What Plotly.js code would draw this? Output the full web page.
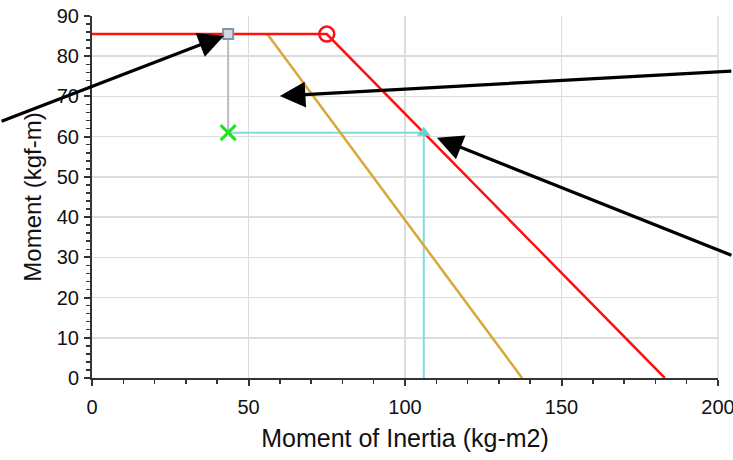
<!DOCTYPE html>
<html>
<head>
<meta charset="utf-8">
<script src="https://cdn.plot.ly/plotly-3.0.1.min.js"></script>
<style>html,body{margin:0;padding:0;background:#fff;}#chart{width:733px;height:460px;}</style>
</head>
<body>
<div id="chart"></div>
<script>
// Limit curve (red)
const redX = [0, 75, 183];
const redY = [85.5, 85.5, 0];
// Second curve (orange)
const orangeX = [56, 137.4];
const orangeY = [85.5, 0];
// Gray drop line
const grayX = [43.5, 43.5];
const grayY = [85.5, 61];
// Cyan guide lines
const cyanX = [43.5, 106, 106];
const cyanY = [61, 61, 0];
// Markers
const circleX = [75], circleY = [85.5];
const squareX = [43.5], squareY = [85.5];
const crossX = [43.5], crossY = [61];
const triX = [106], triY = [61];
// Arrow tips (data) and tails (pixel offsets)
const arrowTipX = [42.2, 60, 110.2];
const arrowTipY = [85.1, 70.1, 59.7];
const arrowAx = [-224, 453, 296];
const arrowAy = [86, -25, 118];

const xTitle = 'Moment of Inertia (kg-m2)';
const yTitle = 'Moment (kgf-m)';

const traces = [
  {x: grayX, y: grayY, mode: 'lines', line: {color: '#b4bcc8', width: 2}},
  {x: cyanX, y: cyanY, mode: 'lines', line: {color: '#7fdcd8', width: 2}},
  {x: orangeX, y: orangeY, mode: 'lines', line: {color: '#d8a838', width: 2.5}},
  {x: redX, y: redY, mode: 'lines', line: {color: '#ff1010', width: 2.5}},
  {x: circleX, y: circleY, mode: 'markers', marker: {symbol: 'circle-open', size: 15, color: '#ff1010', line: {width: 2.5, color: '#ff1010'}}},
  {x: squareX, y: squareY, mode: 'markers', marker: {symbol: 'square', size: 10, color: '#d4dae2', line: {width: 2, color: '#8394a8'}}},
  {x: crossX, y: crossY, mode: 'markers', marker: {symbol: 'x-thin-open', size: 15, color: '#22e022', line: {width: 3, color: '#22e022'}}},
  {x: triX, y: triY, mode: 'markers', marker: {symbol: 'triangle-up', size: 12, color: '#66d4ce'}}
];

const annotations = arrowTipX.map((x, i) => ({
  x: x, y: arrowTipY[i], xref: 'x', yref: 'y',
  ax: arrowAx[i], ay: arrowAy[i], axref: 'pixel', ayref: 'pixel',
  text: '', showarrow: true, arrowhead: 2, arrowsize: 1.6, arrowwidth: 3.2,
  arrowcolor: '#000000', standoff: 0, startstandoff: 0
}));

const fam = 'Liberation Sans, Arial, sans-serif';

const layout = {
  width: 733, height: 460,
  margin: {l: 92, r: 15, t: 16, b: 82},
  paper_bgcolor: '#ffffff', plot_bgcolor: '#ffffff',
  showlegend: false,
  font: {family: fam, size: 18, color: '#111'},
  xaxis: {
    range: [0, 200], dtick: 50, tick0: 0,
    showgrid: true, gridcolor: '#dcdcdc', gridwidth: 1.5,
    zeroline: false, showline: true, linecolor: '#333', linewidth: 2,
    ticks: 'outside', ticklen: 6, tickwidth: 2, tickcolor: '#333',
    minor: {dtick: 10, ticks: 'outside', ticklen: 4, tickwidth: 1.5, tickcolor: '#333', showgrid: false},
    tickfont: {family: fam, size: 20, color: '#111'},
    ticklabeloverflow: 'allow',
    ticklabelstandoff: 4,
    title: {text: xTitle, font: {family: fam, size: 25, color: '#111'}, standoff: 12},
    fixedrange: true
  },
  yaxis: {
    range: [0, 90], dtick: 10, tick0: 0,
    showgrid: true, gridcolor: '#dcdcdc', gridwidth: 1.5,
    zeroline: false, showline: true, linecolor: '#333', linewidth: 2,
    ticks: 'outside', ticklen: 6, tickwidth: 2, tickcolor: '#333',
    minor: {dtick: 2, ticks: 'outside', ticklen: 4, tickwidth: 1.5, tickcolor: '#333', showgrid: false},
    tickfont: {family: fam, size: 20, color: '#111'},
    ticklabeloverflow: 'allow',
    ticklabelstandoff: 1,
    title: {text: yTitle, font: {family: fam, size: 24, color: '#111'}, standoff: 8},
    fixedrange: true
  },
  shapes: [
    {type: 'line', xref: 'paper', yref: 'paper', x0: 1, x1: 1, y0: 0, y1: 1, line: {color: '#dcdcdc', width: 1.5}, layer: 'below'}
  ],
  annotations: annotations
};

Plotly.newPlot('chart', traces, layout, {staticPlot: true, displayModeBar: false});
</script>
</body>
</html>
